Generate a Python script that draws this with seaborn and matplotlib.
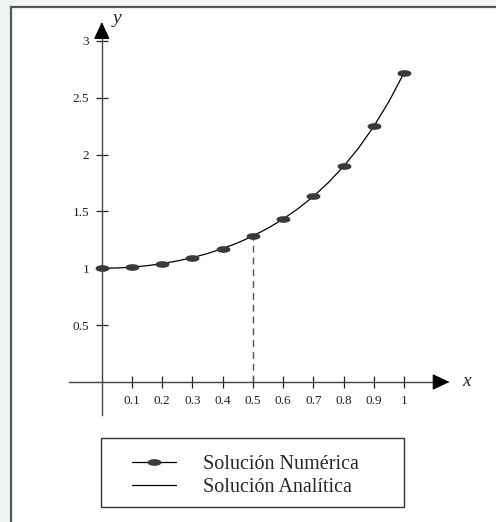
import numpy as np
import pandas as pd
import seaborn as sns
import matplotlib.pyplot as plt
from matplotlib.lines import Line2D
from matplotlib.patches import Rectangle
from matplotlib.path import Path

# numerical solution (points)
x_num = [0.0, 0.1, 0.2, 0.3, 0.4, 0.5, 0.6, 0.7, 0.8, 0.9, 1.0]
y_num = [1.000, 1.010, 1.041, 1.094, 1.174, 1.284, 1.433, 1.632, 1.896, 2.248, 2.718]

# analytic solution
x_ana = [0.0, 0.05, 0.1, 0.15, 0.2, 0.25, 0.3, 0.35, 0.4, 0.45, 0.5,
         0.55, 0.6, 0.65, 0.7, 0.75, 0.8, 0.85, 0.9, 0.95, 1.0]
y_ana = [1.000, 1.003, 1.010, 1.023, 1.041, 1.065, 1.094, 1.130, 1.174, 1.224, 1.284,
         1.353, 1.433, 1.526, 1.632, 1.755, 1.896, 2.059, 2.248, 2.466, 2.718]

x_ticks = [0.1, 0.2, 0.3, 0.4, 0.5, 0.6, 0.7, 0.8, 0.9, 1.0]
x_labels = ['0.1', '0.2', '0.3', '0.4', '0.5', '0.6', '0.7', '0.8', '0.9', '1']
y_ticks = [0.5, 1.0, 1.5, 2.0, 2.5, 3.0]
y_labels = ['0.5', '1', '1.5', '2', '2.5', '3']

x_mark = 0.5
y_mark = y_num[x_num.index(x_mark)]

sns.set_style('white')
plt.rcParams['font.family'] = ['Liberation Serif', 'DejaVu Serif']

W, H = 496, 522
fig = plt.figure(figsize=(W / 100, H / 100), dpi=100, facecolor='#f0f5f2')

# white panel with dark border (behind the axes)
fig.patches.append(Rectangle((11 / W, -0.05), 1.2, 1 - 7 / H + 0.05,
                             transform=fig.transFigure, facecolor='white',
                             edgecolor='#555555', lw=1.6, zorder=-2))

# axes placed so that data -> pixels matches the reference
px_per_x = 302.2
px_per_y = 113.7
x0_px, y0_px = 101.8, 382.0
xlim = (-0.15, 1.3)
ylim = (-0.35, 3.3)
left = (x0_px + xlim[0] * px_per_x) / W
width = (xlim[1] - xlim[0]) * px_per_x / W
bottom = (H - (y0_px - ylim[0] * px_per_y)) / H
height = (ylim[1] - ylim[0]) * px_per_y / H
ax = fig.add_axes([left, bottom, width, height])
ax.set_facecolor('none')
ax.set_xlim(*xlim)
ax.set_ylim(*ylim)

for s in ['top', 'right']:
    ax.spines[s].set_visible(False)
ax.spines['left'].set_position('zero')
ax.spines['bottom'].set_position('zero')
ax.spines['left'].set_bounds(-0.29, 3.1)
ax.spines['bottom'].set_bounds(-0.11, 1.12)
for s in ['left', 'bottom']:
    ax.spines[s].set_color('#444444')
    ax.spines[s].set_linewidth(1.0)

ax.set_xticks(x_ticks, x_labels)
ax.set_yticks(y_ticks, y_labels)
ax.tick_params(axis='both', bottom=True, left=True, direction='inout',
               length=9, width=0.9, color='#222222', labelsize=9.5,
               labelcolor='#222222')
ax.tick_params(axis='x', pad=5)
ax.tick_params(axis='y', pad=4.5)

# arrow heads
ax.annotate('', xy=(1.16, 0), xytext=(1.10, 0),
            arrowprops=dict(arrowstyle='-|>,head_length=0.9,head_width=0.42',
                            mutation_scale=12, color='black', lw=0.8))
ax.annotate('', xy=(0, 3.19), xytext=(0, 3.06),
            arrowprops=dict(arrowstyle='-|>,head_length=0.9,head_width=0.42',
                            mutation_scale=12, color='black', lw=0.8))
ax.text(1.208, 0, 'x', style='italic', fontsize=14, ha='center', va='center')
ax.text(0.05, 3.2, 'y', style='italic', fontsize=14, ha='center', va='center')

# dashed guide
ax.plot([x_mark, x_mark], [0, y_mark], ls=(0, (5, 3.5)), color='#555555', lw=1.0)

# ellipse marker
t = np.linspace(0, 2 * np.pi, 40)
ell = Path(np.column_stack([np.cos(t), 0.42 * np.sin(t)]))

df_ana = pd.DataFrame({'x': x_ana, 'y': y_ana})
df_num = pd.DataFrame({'x': x_num, 'y': y_num})
sns.lineplot(data=df_ana, x='x', y='y', ax=ax, color='black', lw=0.9,
             sort=False, estimator=None)
ax.plot(df_num['x'], df_num['y'], ls='none', marker=ell, markersize=9,
        color='#3a3a3a', zorder=3)
ax.set_xlabel('')
ax.set_ylabel('')

# legend box
fig.patches.append(Rectangle((101 / W, 1 - 507 / H), 303 / W, 69 / H,
                             transform=fig.transFigure, facecolor='white',
                             edgecolor='#333333', lw=1.0, zorder=-1))
handles = [Line2D([], [], color='black', lw=0.9, marker=ell, markersize=9,
                  markerfacecolor='#3a3a3a', markeredgecolor='#3a3a3a'),
           Line2D([], [], color='black', lw=0.9)]
leg = fig.legend(handles, ['Solución Numérica', 'Solución Analítica'],
                 loc='upper left', bbox_to_anchor=(132 / W, 1 - 455 / H),
                 frameon=False, borderpad=0, borderaxespad=0,
                 fontsize=14.5, handlelength=2.2, handletextpad=1.35,
                 labelspacing=0.2)

fig.savefig('out.png', dpi=100, facecolor=fig.get_facecolor())
